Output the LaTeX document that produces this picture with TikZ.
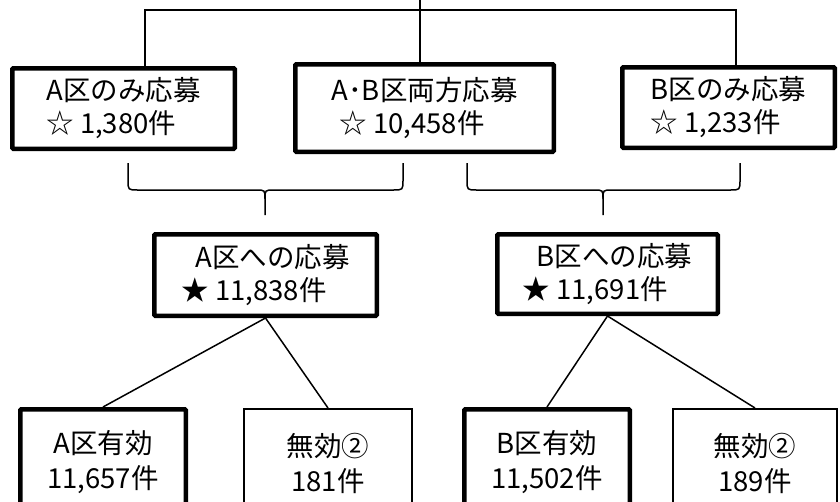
\documentclass[tikz,border=0pt]{standalone}
\usepackage{fontspec}
\setmainfont{Noto Sans CJK JP}
\usetikzlibrary{positioning}

\begin{document}
\begin{tikzpicture}[x=1pt, y=-1pt,
    boldbox/.style={rectangle, draw, line width=4.5pt, rounded corners=1pt, align=left, inner sep=0pt, font=\fontsize{27.5}{33}\selectfont},
    thinbox/.style={rectangle, draw, line width=1.6pt, align=center, inner sep=0pt, font=\fontsize{27.5}{35}\selectfont},
    link/.style={line width=1.5pt}]
    \useasboundingbox (0,0) rectangle (840,501);
    \clip (0,0) rectangle (840,501);

    % Applications per district
    \node[boldbox, minimum width=222.5, minimum height=80.5] (aonly) at (123.5,108.5) {A区のみ応募\\☆ 1,380件};
    \node[boldbox, minimum width=258.5, minimum height=87.5] (both) at (424.5,108) {A･B区両方応募\\\hspace{8pt}☆ 10,458件};
    \node[boldbox, minimum width=212.5, minimum height=80.5] (bonly) at (728.5,107.5) {B区のみ応募\\☆ 1,233件};

    % Totals
    \node[boldbox, minimum width=222.5, minimum height=81.5] (atotal) at (265.5,275) {\hspace{14pt}A区への応募\\★ 11,838件};
    \node[boldbox, minimum width=220.5, minimum height=79.5] (btotal) at (607.5,274) {\hspace{14pt}B区への応募\\★ 11,691件};

    % Valid / invalid
    \node[boldbox, align=center, font=\fontsize{27.5}{35}\selectfont, minimum width=165.5, minimum height=105.5] (avalid) at (103,462) {A区有効\\11,657件};
    \node[thinbox, minimum width=168.4, minimum height=108.4] (ainval) at (328,463) {無効②\\181件};
    \node[boldbox, align=center, font=\fontsize{27.5}{35}\selectfont, minimum width=165.5, minimum height=105.5] (bvalid) at (547,462) {B区有効\\11,502件};
    \node[thinbox, minimum width=164.4, minimum height=108.4] (binval) at (755,463) {無効②\\189件};

    % Top bracket
    \coordinate (top) at (420,0);
    \coordinate (topleft) at (145,10);
    \coordinate (topright) at (736,10);
    \draw[link] (top) -- (top |- both.north);
    \draw[link] (topleft |- aonly.north) -- (topleft) -- (topright) -- (topright |- bonly.north);

    % Braces
    \draw[link] (128,163) -- (128,180) .. controls (128,190) .. (138,190) -- (256,190) .. controls (265,190) .. (265,199) -- (265,215);
    \draw[link] (403,163) -- (403,180) .. controls (403,190) .. (393,190) -- (274,190) .. controls (265,190) .. (265,199);
    \draw[link] (467,163) -- (467,180) .. controls (467,190) .. (477,190) -- (594,190) .. controls (603,190) .. (603,199) -- (603,215);
    \draw[link] (740,163) -- (740,180) .. controls (740,190) .. (730,190) -- (612,190) .. controls (603,190) .. (603,199);

    % Lines
    \draw[link] (atotal.south) -- (avalid.north);
    \draw[link] (atotal.south) -- (ainval.north);
    \draw[link] (btotal.south) -- (bvalid.north);
    \draw[link] (btotal.south) -- (binval.north);
\end{tikzpicture}
\end{document}
